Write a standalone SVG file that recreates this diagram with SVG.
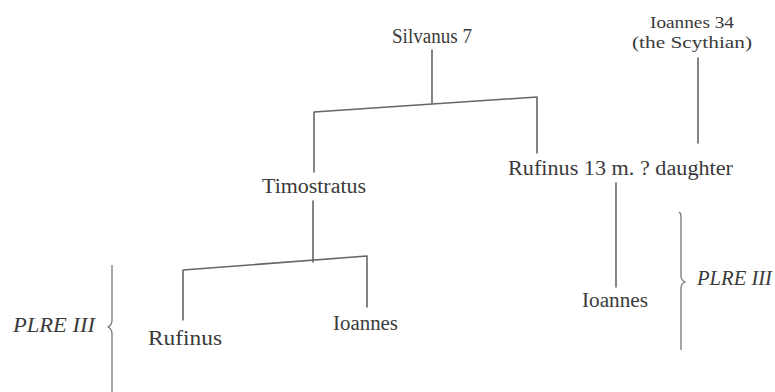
<svg xmlns="http://www.w3.org/2000/svg" width="775" height="392" viewBox="0 0 775 392">
<style>
  .t { font-family: "Liberation Serif", "DejaVu Serif", serif; font-size: 20px; fill: #3a3a3a; }
  .s { font-size: 17px; }
  .i { font-style: italic; }
  .c { fill: none; stroke: #666; stroke-width: 1.6; stroke-linecap: round; stroke-linejoin: round; }
  .b { fill: none; stroke: #777; stroke-width: 1.3; }
</style>
<rect width="775" height="392" fill="#fff"/>
<g id="connectors">
  <path class="c" d="M432,50 L432,103"/>
  <path class="c" d="M314,172 L314,112 L537,97 L537,153"/>
  <path class="c" d="M698,58 L698,143"/>
  <path class="c" d="M313,201 L313,262"/>
  <path class="c" d="M183,320 L183,270 L367,256 L367,307"/>
  <path class="c" d="M616,183 L616,287"/>
</g>
<g id="brace-left">
  <path class="b" d="M112,265 L112,320 Q112,325 108,327 Q112,329 112,334 L112,392"/>
  <text class="t i" x="13" y="332" textLength="82" lengthAdjust="spacingAndGlyphs">PLRE III</text>
</g>
<g id="brace-right">
  <path class="b" d="M679,212 Q681,213 681,217 L681,276 Q681,280 685,282 Q681,284 681,288 L681,350"/>
  <text class="t i" x="697" y="285" textLength="75" lengthAdjust="spacingAndGlyphs">PLRE III</text>
</g>
<g id="silvanus"><text class="t" x="392" y="43" textLength="80" lengthAdjust="spacingAndGlyphs">Silvanus 7</text></g>
<g id="ioannes34">
  <text class="t s" x="650" y="28" textLength="84" lengthAdjust="spacingAndGlyphs">Ioannes 34</text>
  <text class="t s" x="632" y="48" textLength="120" lengthAdjust="spacingAndGlyphs">(the Scythian)</text>
</g>
<g id="rufinus13"><text class="t" x="508" y="175" textLength="225" lengthAdjust="spacingAndGlyphs">Rufinus 13 m. ? daughter</text></g>
<g id="timostratus"><text class="t" x="262" y="193" textLength="104" lengthAdjust="spacingAndGlyphs">Timostratus</text></g>
<g id="rufinus"><text class="t" x="148" y="345" textLength="74" lengthAdjust="spacingAndGlyphs">Rufinus</text></g>
<g id="ioannes-a"><text class="t" x="333" y="330" textLength="65" lengthAdjust="spacingAndGlyphs">Ioannes</text></g>
<g id="ioannes-b"><text class="t" x="582" y="307" textLength="66" lengthAdjust="spacingAndGlyphs">Ioannes</text></g>
</svg>
